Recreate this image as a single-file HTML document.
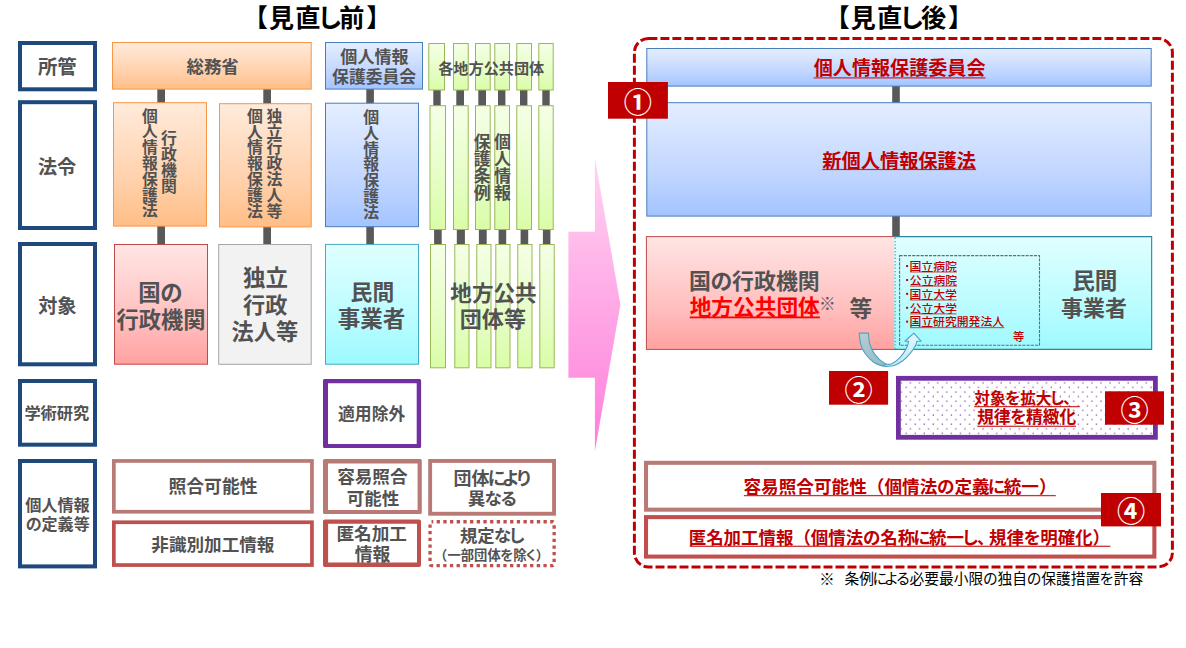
<!DOCTYPE html>
<html lang="ja"><head><meta charset="utf-8"><title>個人情報保護制度 見直し前・見直し後</title>
<style>
html,body{margin:0;padding:0;background:#fff}
body{width:1186px;height:648px;position:relative;overflow:hidden;font-family:"Liberation Sans","Noto Sans CJK JP",sans-serif}
.t{position:absolute;color:transparent;white-space:nowrap;line-height:1.2;overflow:hidden;font-weight:bold}
.t.v{writing-mode:vertical-rl;line-height:1;width:1.05em}
</style></head><body>
<svg width="1186" height="648" viewBox="0 0 1186 648" style="position:absolute;left:0;top:0"><defs><linearGradient id="gO" x1="0" y1="0" x2="0" y2="1"><stop offset="0" stop-color="#FFEBDB"/><stop offset="0.65" stop-color="#FFD0AA"/><stop offset="1" stop-color="#FFBE86"/></linearGradient><linearGradient id="gB" x1="0" y1="0" x2="0" y2="1"><stop offset="0" stop-color="#E5EEFF"/><stop offset="0.65" stop-color="#BFD5FF"/><stop offset="1" stop-color="#A3C4FF"/></linearGradient><linearGradient id="gG" x1="0" y1="0" x2="0" y2="1"><stop offset="0" stop-color="#F5FFE6"/><stop offset="0.65" stop-color="#E4FDC2"/><stop offset="1" stop-color="#DAFDA7"/></linearGradient><linearGradient id="gP" x1="0" y1="0" x2="0" y2="1"><stop offset="0" stop-color="#FFE5E5"/><stop offset="0.65" stop-color="#FFBEBD"/><stop offset="1" stop-color="#FFA2A1"/></linearGradient><linearGradient id="gC" x1="0" y1="0" x2="0" y2="1"><stop offset="0" stop-color="#E0FFFF"/><stop offset="0.65" stop-color="#B8FCFF"/><stop offset="1" stop-color="#9CFAFF"/></linearGradient><linearGradient id="gA" x1="0" y1="0" x2="0" y2="1"><stop offset="0" stop-color="#FFD4F1"/><stop offset="1" stop-color="#FF7EDB"/></linearGradient><linearGradient id="gCurveD" x1="0" y1="0" x2="0" y2="1"><stop offset="0" stop-color="#B9CDD3"/><stop offset="1" stop-color="#93BECB"/></linearGradient><linearGradient id="gCurveL" x1="0" y1="0" x2="0" y2="1"><stop offset="0" stop-color="#E2F6FD"/><stop offset="1" stop-color="#BDE9F7"/></linearGradient><pattern id="dots" x="901.3" y="382.7" width="9.07" height="9.2" patternUnits="userSpaceOnUse"><rect x="-0.5" y="-0.5" width="1.25" height="1.25" fill="#7030A0" opacity="0.9"/><rect x="8.57" y="-0.5" width="1.25" height="1.25" fill="#7030A0" opacity="0.9"/><rect x="-0.5" y="8.7" width="1.25" height="1.25" fill="#7030A0" opacity="0.9"/><rect x="8.57" y="8.7" width="1.25" height="1.25" fill="#7030A0" opacity="0.9"/><rect x="4.2" y="4.1" width="1.25" height="1.25" fill="#7030A0" opacity="0.9"/></pattern></defs>
<rect x="20" y="43" width="75" height="46.3" fill="none" stroke="#1F497D" stroke-width="4"/>
<rect x="20" y="102.2" width="75" height="125.8" fill="none" stroke="#1F497D" stroke-width="4"/>
<rect x="20" y="244" width="75" height="120.3" fill="none" stroke="#1F497D" stroke-width="4"/>
<rect x="20" y="381" width="75" height="63.7" fill="none" stroke="#1F497D" stroke-width="4"/>
<rect x="20" y="461" width="75" height="105.4" fill="none" stroke="#1F497D" stroke-width="4"/>
<rect x="157.3" y="88.6" width="7.7" height="14.6" fill="#595959"/>
<rect x="263.3" y="88.6" width="7.7" height="15.6" fill="#595959"/>
<rect x="157.3" y="225.6" width="7.7" height="19.4" fill="#595959"/>
<rect x="263.3" y="226.4" width="7.7" height="18.6" fill="#595959"/>
<rect x="366.3" y="88.5" width="7.6" height="15.2" fill="#595959"/>
<rect x="366.3" y="226.2" width="7.6" height="18.8" fill="#595959"/>
<rect x="433.3" y="89.5" width="7.4" height="16.7" fill="#595959"/>
<rect x="456.3" y="89.5" width="7.7" height="16.7" fill="#595959"/>
<rect x="478.3" y="89.5" width="7.7" height="16.7" fill="#595959"/>
<rect x="498" y="89.5" width="7.4" height="16.7" fill="#595959"/>
<rect x="520" y="89.5" width="7.4" height="16.7" fill="#595959"/>
<rect x="542.3" y="89.5" width="7.4" height="16.7" fill="#595959"/>
<rect x="434.1" y="229" width="7.6" height="16" fill="#595959"/>
<rect x="456.8" y="229" width="8.1" height="16" fill="#595959"/>
<rect x="478.9" y="229" width="7.8" height="16" fill="#595959"/>
<rect x="498.6" y="229" width="7.6" height="16" fill="#595959"/>
<rect x="520.6" y="229" width="7.6" height="16" fill="#595959"/>
<rect x="542.9" y="229" width="7.5" height="16" fill="#595959"/>
<rect x="112.5" y="42.5" width="198.7" height="46.6" fill="url(#gO)" stroke="#F79646" stroke-width="1"/>
<rect x="325.5" y="42.5" width="97" height="46.6" fill="url(#gB)" stroke="#4A7EBB" stroke-width="1"/>
<rect x="428.8" y="43.5" width="15.7" height="46.5" fill="url(#gG)" stroke="#98B954" stroke-width="1"/>
<rect x="453.5" y="43.5" width="14.7" height="46.5" fill="url(#gG)" stroke="#98B954" stroke-width="1"/>
<rect x="475.5" y="43.5" width="14.7" height="46.5" fill="url(#gG)" stroke="#98B954" stroke-width="1"/>
<rect x="494.8" y="43.5" width="14.7" height="46.5" fill="url(#gG)" stroke="#98B954" stroke-width="1"/>
<rect x="516.8" y="43.5" width="14.7" height="46.5" fill="url(#gG)" stroke="#98B954" stroke-width="1"/>
<rect x="538.8" y="43.5" width="14.4" height="46.5" fill="url(#gG)" stroke="#98B954" stroke-width="1"/>
<rect x="113.5" y="102.7" width="93" height="123.4" fill="url(#gO)" stroke="#F79646" stroke-width="1"/>
<rect x="219.5" y="103.7" width="91.7" height="123.2" fill="url(#gO)" stroke="#F79646" stroke-width="1"/>
<rect x="325.5" y="103.2" width="93" height="123.5" fill="url(#gB)" stroke="#4A7EBB" stroke-width="1"/>
<rect x="430" y="105.7" width="15.5" height="123.8" fill="url(#gG)" stroke="#98B954" stroke-width="1"/>
<rect x="453.5" y="105.7" width="14.7" height="123.8" fill="url(#gG)" stroke="#98B954" stroke-width="1"/>
<rect x="475.5" y="105.7" width="14.7" height="123.8" fill="url(#gG)" stroke="#98B954" stroke-width="1"/>
<rect x="494.8" y="105.7" width="14.7" height="123.8" fill="url(#gG)" stroke="#98B954" stroke-width="1"/>
<rect x="516.8" y="105.7" width="14.7" height="123.8" fill="url(#gG)" stroke="#98B954" stroke-width="1"/>
<rect x="538.8" y="105.7" width="14.4" height="123.8" fill="url(#gG)" stroke="#98B954" stroke-width="1"/>
<rect x="114.5" y="244.5" width="93" height="119.7" fill="url(#gP)" stroke="#BE4B48" stroke-width="1"/>
<rect x="218.7" y="244.5" width="92.5" height="119.8" fill="#F2F2F2" stroke="#A6A6A6" stroke-width="1"/>
<rect x="325.5" y="244.4" width="93" height="119.8" fill="url(#gC)" stroke="#46AAC5" stroke-width="1"/>
<rect x="430.5" y="244.5" width="15" height="123.3" fill="url(#gG)" stroke="#98B954" stroke-width="1"/>
<rect x="454.8" y="244.5" width="14.2" height="123.3" fill="url(#gG)" stroke="#98B954" stroke-width="1"/>
<rect x="476.8" y="244.5" width="14.2" height="123.3" fill="url(#gG)" stroke="#98B954" stroke-width="1"/>
<rect x="495.8" y="244.5" width="14.2" height="123.3" fill="url(#gG)" stroke="#98B954" stroke-width="1"/>
<rect x="517.8" y="244.5" width="14.2" height="123.3" fill="url(#gG)" stroke="#98B954" stroke-width="1"/>
<rect x="539.8" y="244.5" width="14.4" height="123.3" fill="url(#gG)" stroke="#98B954" stroke-width="1"/>
<rect x="327.5" y="382.7" width="89.7" height="61.7" fill="#fff"/>
<path d="M324.5 379H419.6Q421.1 379 421.1 380.5V446.4Q421.1 447.9 419.6 447.9H324.5Q323 447.9 323 446.4V380.5Q323 379 324.5 379ZM328 383.2V443.9H416.7V383.2Z" fill="#7030A0" fill-rule="evenodd"/>
<rect x="113.85" y="460.95" width="198.1" height="50.8" fill="#fff" stroke="#B97A76" stroke-width="3.7"/>
<rect x="113.85" y="522.25" width="198.1" height="42.8" fill="#fff" stroke="#C0504D" stroke-width="3.7"/>
<rect x="327.5" y="462.9" width="90.6" height="47.6" fill="#fff"/>
<path d="M324.5 458.9H420.3Q421.8 458.9 421.8 460.4V512.4Q421.8 513.9 420.3 513.9H324.5Q323 513.9 323 512.4V460.4Q323 458.9 324.5 458.9ZM328 463.4V510H417.6V463.4Z" fill="#B97A76" fill-rule="evenodd"/>
<rect x="327.6" y="523.3" width="89.9" height="39.7" fill="#fff"/>
<path d="M324.8 519.4H419.2Q421 519.4 421 521.2V565.2Q421 567 419.2 567H324.8Q323 567 323 565.2V521.2Q323 519.4 324.8 519.4ZM328.1 523.8V562.5H417V523.8Z" fill="#C0504D" fill-rule="evenodd"/>
<rect x="430.15" y="460.95" width="123.9" height="52.8" fill="#fff" stroke="#B97A76" stroke-width="3.9"/>
<rect x="430.05" y="521.75" width="124.1" height="43.8" fill="none" stroke="#C0504D" stroke-width="3.3" stroke-dasharray="3.3 3.38" stroke-dashoffset="1.6" rx="1.5"/>
<path d="M568.4 231.8H594.9V157.9L620.4 304.5L594.9 451.2V377.8H568.4Z" fill="url(#gA)"/>
<rect x="634.4" y="38.5" width="538" height="528.4" rx="14" ry="14" fill="none" stroke="#C00000" stroke-width="3" stroke-dasharray="9 3"/>
<rect x="892.2" y="85.5" width="7.6" height="17.7" fill="#595959"/>
<rect x="892.2" y="215.5" width="7.6" height="22" fill="#595959"/>
<rect x="646.8" y="48.5" width="504.4" height="37.6" fill="url(#gB)" stroke="#4A7EBB" stroke-width="1"/>
<rect x="646.8" y="102.7" width="504.4" height="113.4" fill="url(#gB)" stroke="#4A7EBB" stroke-width="1"/>
<rect x="646.4" y="236.6" width="249.1" height="112.8" fill="url(#gP)" stroke="#BE4B48" stroke-width="1"/>
<rect x="894" y="236.1" width="258.2" height="113.8" fill="url(#gC)"/>
<path d="M894 236.65H1151.65V349.35H894" fill="none" stroke="#31859C" stroke-width="1.1"/>
<line x1="895.1" y1="237.6" x2="895.1" y2="349" stroke="#8fa3a3" stroke-width="1.6" stroke-dasharray="1.3 2.03"/>
<rect x="899.6" y="255.6" width="139.9" height="89.7" fill="none" stroke="#6b6b6b" stroke-width="1.1" stroke-dasharray="3.1 1.1"/>
<rect x="898.4" y="378.3" width="257" height="59" fill="#fff" stroke="#7030A0" stroke-width="4.8"/>
<rect x="900.8" y="380.7" width="252.2" height="54.2" fill="url(#dots)"/>
<rect x="646.02" y="462.82" width="508.35" height="46.85" fill="#fff" stroke="#B97A76" stroke-width="4.05"/>
<rect x="646.02" y="517.12" width="508.35" height="39.45" fill="#fff" stroke="#C0504D" stroke-width="4.05"/>
<path d="M859.1 333.16C859.38 335.07 859.74 341.15 860.8 344.62C861.86 348.08 863.27 350.98 865.47 353.96C867.66 356.93 871.13 360.46 873.96 362.44C876.79 364.43 880.18 365.2 882.44 365.84C884.71 366.48 886.69 366.19 887.54 366.26L886.26 364.31C885.2 363.58 881.95 361.77 879.9 359.9C877.85 358.03 875.65 355.8 873.96 353.11C872.26 350.42 870.63 347.09 869.71 343.77C868.79 340.44 868.65 334.93 868.44 333.16Z" fill="url(#gCurveD)" stroke="#4BA5C2" stroke-width="1.1" stroke-linejoin="round"/>
<path d="M886.26 364.31C887.18 364.21 889.59 364.74 891.78 363.72C893.98 362.7 897.02 360.68 899.42 358.2C901.83 355.72 904.69 351.69 906.21 348.86C907.74 346.03 908.19 342.5 908.59 341.22L904.94 341.22L913.85 333.16L921.07 341.22L916.83 341.22L916.83 341.22C916.61 341.93 916.61 343.49 915.55 345.47C914.49 347.45 912.58 350.56 910.46 353.11C908.34 355.65 905.51 358.7 902.82 360.75C900.13 362.8 896.88 364.5 894.33 365.42C891.78 366.34 889.52 366.19 887.54 366.26C885.56 366.34 883.29 365.91 882.44 365.84Z" fill="url(#gCurveL)" stroke="#4BA5C2" stroke-width="1.1" stroke-linejoin="round"/>
<rect x="906.1" y="265.05" width="2" height="2" fill="#C00000"/>
<rect x="906.1" y="279.05" width="2" height="2" fill="#C00000"/>
<rect x="906.1" y="292.9" width="2" height="2" fill="#C00000"/>
<rect x="906.1" y="306.8" width="2" height="2" fill="#C00000"/>
<rect x="906.1" y="320.65" width="2" height="2" fill="#C00000"/>
<g font-family="'Liberation Sans','Noto Sans CJK JP',sans-serif" font-weight="bold">
<text x="242.77 268.74 295.19 317.31 339.17 366.19" y="27.18" font-size="25.2" fill="#000">【見直し前】</text>
<text x="824.57 850.44 876.99 899.11 921.1 947.89" y="27.18" font-size="25.2" fill="#000">【見直し後】</text>
<text x="37.93" y="74.12" font-size="19.39" fill="#525252">所管</text>
<text x="37.94" y="173.98" font-size="19.15" fill="#525252">法令</text>
<text x="38.15" y="312.59" font-size="19.19" fill="#525252">対象</text>
<text x="24.42" y="418.97" font-size="16.23" fill="#525252">学術研究</text>
<text x="25.14" y="511.24" font-size="16.16" fill="#525252">個人情報</text>
<text x="25.77 41.57 57.6 73.64" y="530.24" font-size="16.04" fill="#525252">の定義等</text>
<text x="186.46" y="72.94" font-size="17.47" fill="#525252">総務省</text>
<text x="340.33" y="62.93" font-size="17.07" fill="#525252">個人情報</text>
<text x="332.1" y="82.79" font-size="16.82" fill="#525252">保護委員会</text>
<text x="438.24" y="74.46" font-size="15.15" fill="#525252">各地方公共団体</text>
<text x="141.91 141.91 141.91 141.91 141.91 141.91 141.91" y="121.67 137.45 153.24 169.02 184.81 200.59 216.38" font-size="15.78" fill="#525252">個人情報保護法</text>
<text x="161.07 161.07 161.07 161.07" y="144.48 160.35 176.21 192.07" font-size="15.86" fill="#525252">行政機関</text>
<text x="247.07 247.07 247.07 247.07 247.07 247.07 247.07" y="121.73 137.59 153.44 169.3 185.16 201.02 216.87" font-size="15.86" fill="#525252">個人情報保護法</text>
<text x="266.57 266.57 266.57 266.57 266.57 266.57 266.57" y="121.73 137.59 153.45 169.31 185.17 201.03 216.89" font-size="15.86" fill="#525252">独立行政法人等</text>
<text x="363.35 363.35 363.35 363.35 363.35 363.35 363.35" y="122.77 138.67 154.57 170.47 186.37 202.27 218.17" font-size="15.9" fill="#525252">個人情報保護法</text>
<text x="473.64 473.64 473.64 473.64" y="148.33 165.24 182.16 199.08" font-size="16.92" fill="#525252">保護条例</text>
<text x="493.95 493.95 493.95 493.95" y="148.32 165.23 182.14 199.04" font-size="16.91" fill="#525252">個人情報</text>
<text x="138.19 160.3" y="300.73" font-size="22.44" fill="#525252">国の</text>
<text x="116.57" y="327.65" font-size="22.24" fill="#525252">行政機関</text>
<text x="242.95" y="286.28" font-size="22.46" fill="#525252">独立</text>
<text x="243.07" y="312.72" font-size="22.16" fill="#525252">行政</text>
<text x="231.56" y="339.83" font-size="22.19" fill="#525252">法人等</text>
<text x="350.62" y="300.48" font-size="21.79" fill="#525252">民間</text>
<text x="337.64" y="327.27" font-size="22.56" fill="#525252">事業者</text>
<text x="450.35" y="301.2" font-size="21.58" fill="#525252">地方公共</text>
<text x="459.81" y="327.34" font-size="22.07" fill="#525252">団体等</text>
<text x="338.06" y="419.69" font-size="16.82" fill="#525252">適用除外</text>
<text x="168.41" y="493.43" font-size="17.85" fill="#525252">照合可能性</text>
<text x="151.34" y="550.54" font-size="17.59" fill="#525252">非識別加工情報</text>
<text x="337.18" y="483.49" font-size="17.6" fill="#525252">容易照合</text>
<text x="346.76" y="504.76" font-size="17.52" fill="#525252">可能性</text>
<text x="336.46" y="540.44" font-size="17.62" fill="#525252">匿名加工</text>
<text x="354.8" y="561.22" font-size="17.8" fill="#525252">情報</text>
<text x="453.5 471.49 487.68 501.71 515.02" y="484.64" font-size="17.99" fill="#525252">団体により</text>
<text x="467.66 484.52 500.07" y="504.78" font-size="17.57" fill="#525252">異なる</text>
<text x="459.97 477.31 493.97 508.19" y="541.84" font-size="17.35" fill="#525252">規定なし</text>
<text x="434.06 447.39 460.73 474.06 487.4 500.27 513.14 524.47 535.81" y="560.17" font-size="13.34" fill="#525252">（一部団体を除く）</text>
<text x="813.81" y="75.25" font-size="19.08" fill="#C00000">個人情報保護委員会</text>
<rect x="813.7" y="77.3" width="171.8" height="1.2" fill="#C00000" opacity=".8"/>
<text x="822.29" y="167.51" font-size="19.23" fill="#C00000">新個人情報保護法</text>
<rect x="822.3" y="168.9" width="153.8" height="1.2" fill="#C00000" opacity=".8"/>
<text x="688.94 710.51 732.09 754 775.91 797.81" y="289.07" font-size="21.91" fill="#525252">国の行政機関</text>
<text x="689.64" y="315.45" font-size="21.7" fill="#FF0000">地方公共団体</text>
<rect x="689.8" y="316.5" width="130.1" height="1.8" fill="#FF0000"/>
<text x="819.07" y="310.23" font-size="16.67" font-weight="500" fill="#5f5555">※</text>
<text x="849.49" y="316.61" font-size="22.66" fill="#525252">等</text>
<text x="909.42" y="270.88" font-size="11.92" font-weight="500" fill="#C00000">国立病院</text>
<rect x="910.1" y="271.55" width="46.9" height="0.9" fill="#C00000" opacity=".8"/>
<text x="909.84" y="284.84" font-size="11.82" font-weight="500" fill="#C00000">公立病院</text>
<rect x="910.1" y="285.65" width="46.9" height="0.9" fill="#C00000" opacity=".8"/>
<text x="909.43" y="298.71" font-size="11.88" font-weight="500" fill="#C00000">国立大学</text>
<rect x="910.1" y="299.55" width="46.5" height="0.9" fill="#C00000" opacity=".8"/>
<text x="909.85" y="312.57" font-size="11.77" font-weight="500" fill="#C00000">公立大学</text>
<rect x="910.1" y="313.45" width="46.5" height="0.9" fill="#C00000" opacity=".8"/>
<text x="909.43" y="326.45" font-size="11.84" font-weight="500" fill="#C00000">国立研究開発法人</text>
<rect x="910.1" y="327.25" width="94.1" height="0.9" fill="#C00000" opacity=".8"/>
<text x="1013.11" y="340.69" font-size="11.28" font-weight="500" fill="#C00000">等</text>
<text x="1072.18" y="289.33" font-size="22.58" fill="#525252">民間</text>
<text x="1060.96" y="315.85" font-size="21.98" fill="#525252">事業者</text>
<text x="974.22 989.9 1005.04 1020.18 1035.87 1049.36 1063.32" y="403.81" font-size="15.69" fill="#C00000">対象を拡大し、</text>
<rect x="974.2" y="405.95" width="105.6" height="1.3" fill="#C00000" opacity=".8"/>
<text x="977.18 993.86 1009.96 1026.05 1042.73 1059.41" y="423.44" font-size="16.68" fill="#C00000">規律を精緻化</text>
<rect x="977.3" y="425.65" width="98.7" height="1.3" fill="#C00000" opacity=".8"/>
<text x="743.48 761.1 778.72 796.34 813.96 831.58 849.2 866.82 884.44 902.06 919.68 937.03 954.39 972.01 987.86 1003.72 1021.34 1038.96" y="492.85" font-size="17.62" fill="#C00000">容易照合可能性（個情法の定義に統一）</text>
<rect x="743.9" y="494.95" width="311.9" height="1.3" fill="#C00000" opacity=".8"/>
<text x="688.67 706.13 723.58 741.04 758.5 775.95 793.41 810.87 828.32 845.78 862.97 880.17 897.63 913.34 929.05 946.5 961.52 977.05 989.1 1006.56 1023.4 1040.25 1057.7 1075.16 1092.62" y="544.38" font-size="17.46" fill="#C00000">匿名加工情報（個情法の名称に統一し、規律を明確化）</text>
<rect x="689.8" y="545.65" width="420.6" height="1.3" fill="#C00000" opacity=".8"/>
<text x="819.24" y="584.61" font-size="15.42" font-weight="normal" fill="#000">※</text>
<text x="844.45 859.19 872.45 883.95 895.81 909.44 924.17 938.91 953.64 968.38 982.89 997.41 1012.14 1026.66 1041.17 1055.91 1070.64 1085.38 1099.6 1113.82 1128.55" y="584.45" font-size="14.74" font-weight="normal" fill="#000">条例による必要最小限の独自の保護措置を許容</text></g>
<rect x="608" y="82" width="59.9" height="36.7" fill="#C00000"/>
<text x="623.85" y="113.07" font-size="28.2" font-weight="bold" fill="#fff" font-family="'Liberation Sans','Noto Sans CJK JP',sans-serif">①</text>
<rect x="829" y="371" width="59.1" height="33.7" fill="#C00000"/>
<text x="844.45" y="400.57" font-size="28.2" font-weight="bold" fill="#fff" font-family="'Liberation Sans','Noto Sans CJK JP',sans-serif">②</text>
<rect x="1105" y="391.3" width="59" height="33.4" fill="#C00000"/>
<text x="1120.4" y="420.72" font-size="28.2" font-weight="bold" fill="#fff" font-family="'Liberation Sans','Noto Sans CJK JP',sans-serif">③</text>
<rect x="1101" y="493" width="60" height="33.4" fill="#C00000"/>
<text x="1116.9" y="522.42" font-size="28.2" font-weight="bold" fill="#fff" font-family="'Liberation Sans','Noto Sans CJK JP',sans-serif">④</text></svg>
<div id="text">
<div class="t" style="left:259.4px;top:2.48px;font-size:25.2px;width:124.1px">【見直し前】</div>
<div class="t" style="left:841.2px;top:2.48px;font-size:25.2px;width:124px">【見直し後】</div>
<div class="t" style="left:38.2px;top:55.11px;font-size:19.39px;width:41.8px">所管</div>
<div class="t" style="left:38.5px;top:155.21px;font-size:19.15px;width:41.4px">法令</div>
<div class="t" style="left:38.5px;top:293.79px;font-size:19.19px;width:41.4px">対象</div>
<div class="t" style="left:25.3px;top:403.06px;font-size:16.23px;width:67.7px">学術研究</div>
<div class="t" style="left:25.3px;top:495.4px;font-size:16.16px;width:68.2px">個人情報</div>
<div class="t" style="left:26.8px;top:514.53px;font-size:16.04px;width:66.2px">の定義等</div>
<div class="t" style="left:186.7px;top:55.82px;font-size:17.47px;width:55.6px">総務省</div>
<div class="t" style="left:340.5px;top:46.21px;font-size:17.07px;width:71.8px">個人情報</div>
<div class="t" style="left:332.4px;top:66.31px;font-size:16.82px;width:87.5px">保護委員会</div>
<div class="t" style="left:438.6px;top:59.61px;font-size:15.15px;width:109.5px">各地方公共団体</div>
<div class="t v" style="left:141.91px;top:108.3px;font-size:15.78px;height:113.5px">個人情報保護法</div>
<div class="t v" style="left:161.07px;top:131px;font-size:15.86px;height:66.5px">行政機関</div>
<div class="t v" style="left:247.07px;top:108.3px;font-size:15.86px;height:114px">個人情報保護法</div>
<div class="t v" style="left:266.57px;top:108.3px;font-size:15.86px;height:114px">独立行政法人等</div>
<div class="t v" style="left:363.35px;top:109.3px;font-size:15.9px;height:114.3px">個人情報保護法</div>
<div class="t v" style="left:473.64px;top:134px;font-size:16.92px;height:70.6px">保護条例</div>
<div class="t v" style="left:493.95px;top:134px;font-size:16.91px;height:70.6px">個人情報</div>
<div class="t" style="left:139.9px;top:278.74px;font-size:22.44px;width:45.2px">国の</div>
<div class="t" style="left:116.9px;top:305.85px;font-size:22.24px;width:91px">行政機関</div>
<div class="t" style="left:243.4px;top:264.28px;font-size:22.46px;width:47.5px">独立</div>
<div class="t" style="left:243.4px;top:291px;font-size:22.16px;width:47.5px">行政</div>
<div class="t" style="left:232.2px;top:318.08px;font-size:22.19px;width:69px">法人等</div>
<div class="t" style="left:351.6px;top:279.13px;font-size:21.79px;width:45px">民間</div>
<div class="t" style="left:338.5px;top:305.16px;font-size:22.56px;width:69.7px">事業者</div>
<div class="t" style="left:450.8px;top:280.05px;font-size:21.58px;width:89px">地方公共</div>
<div class="t" style="left:461.4px;top:305.71px;font-size:22.07px;width:67.7px">団体等</div>
<div class="t" style="left:338.5px;top:403.21px;font-size:16.82px;width:70.7px">適用除外</div>
<div class="t" style="left:169px;top:475.94px;font-size:17.85px;width:92px">照合可能性</div>
<div class="t" style="left:151.8px;top:533.29px;font-size:17.59px;width:126.4px">非識別加工情報</div>
<div class="t" style="left:337.9px;top:466.24px;font-size:17.6px;width:73.4px">容易照合</div>
<div class="t" style="left:347.6px;top:487.59px;font-size:17.52px;width:55.1px">可能性</div>
<div class="t" style="left:337.9px;top:523.18px;font-size:17.62px;width:72.3px">匿名加工</div>
<div class="t" style="left:355.1px;top:543.77px;font-size:17.8px;width:39px">情報</div>
<div class="t" style="left:454.8px;top:467.01px;font-size:17.99px;width:78.9px">団体により</div>
<div class="t" style="left:468.5px;top:487.56px;font-size:17.57px;width:51px">異なる</div>
<div class="t" style="left:460.4px;top:524.84px;font-size:17.35px;width:67.7px">規定なし</div>
<div class="t" style="left:442.9px;top:547.1px;font-size:13.34px;width:101.4px">（一部団体を除く）</div>
<div class="t" style="left:814px;top:56.55px;font-size:19.08px;width:175.2px">個人情報保護委員会</div>
<div class="t" style="left:822.6px;top:148.66px;font-size:19.23px;width:157.2px">新個人情報保護法</div>
<div class="t" style="left:690.6px;top:267.61px;font-size:21.91px;width:131.5px">国の行政機関</div>
<div class="t" style="left:690.1px;top:294.18px;font-size:21.7px;width:133.5px">地方公共団体</div>
<div class="t" style="left:821.4px;top:293.9px;font-size:16.67px;width:16px">※</div>
<div class="t" style="left:849.9px;top:294.4px;font-size:22.66px;width:25.3px">等</div>
<div class="t" style="left:910.4px;top:259.2px;font-size:11.92px;width:50.3px">・国立病院</div>
<div class="t" style="left:910.4px;top:273.26px;font-size:11.82px;width:50.3px">・公立病院</div>
<div class="t" style="left:910.4px;top:287.07px;font-size:11.88px;width:49.9px">・国立大学</div>
<div class="t" style="left:910.4px;top:301.04px;font-size:11.77px;width:49.9px">・公立大学</div>
<div class="t" style="left:910.4px;top:314.85px;font-size:11.84px;width:97.5px">・国立研究開発法人</div>
<div class="t" style="left:1013.4px;top:329.63px;font-size:11.28px;width:14.5px">等</div>
<div class="t" style="left:1073.2px;top:267.2px;font-size:22.58px;width:46.5px">民間</div>
<div class="t" style="left:1061.8px;top:294.31px;font-size:21.98px;width:68px">事業者</div>
<div class="t" style="left:974.5px;top:388.44px;font-size:15.69px;width:98.5px">対象を拡大し、</div>
<div class="t" style="left:977.6px;top:407.09px;font-size:16.68px;width:102.1px">規律を精緻化</div>
<div class="t" style="left:744.2px;top:475.58px;font-size:17.62px;width:304.7px">容易照合可能性（個情法の定義に統一）</div>
<div class="t" style="left:690.1px;top:527.28px;font-size:17.46px;width:412.4px">匿名加工情報（個情法の名称に統一し、規律を明確化）</div>
<div class="t" style="left:821.4px;top:569.5px;font-size:15.42px;width:15.1px">※</div>
<div class="t" style="left:845px;top:570.01px;font-size:14.74px;width:301.8px">条例による必要最小限の独自の保護措置を許容</div>
<div class="t" style="left:624.95px;top:85.35px;font-size:26px;width:30px">①</div>
<div class="t" style="left:845.55px;top:372.85px;font-size:26px;width:30px">②</div>
<div class="t" style="left:1121.5px;top:393px;font-size:26px;width:30px">③</div>
<div class="t" style="left:1118px;top:494.7px;font-size:26px;width:30px">④</div>
</div>
</body></html>
